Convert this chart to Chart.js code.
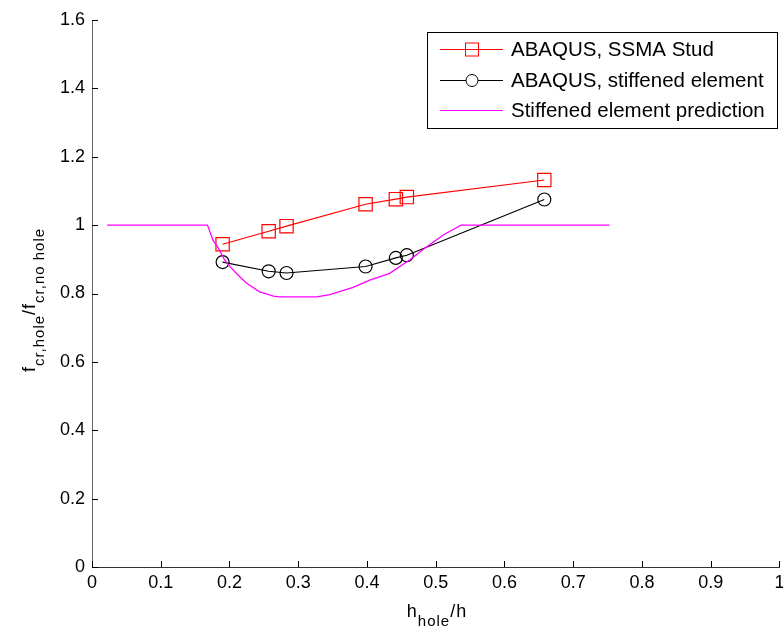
<!DOCTYPE html>
<html>
<head>
<meta charset="utf-8">
<script src="https://cdn.jsdelivr.net/npm/chart.js@4/dist/chart.umd.min.js"></script>
<style>
    html, body { margin: 0; padding: 0; background: #fff; overflow: hidden; }
    #wrap { width: 790px; height: 628px; }
</style>
</head>
<body>
<div id="wrap"><canvas id="chart" width="790" height="628"></canvas></div>
<script>
// h_hole/h values of the ABAQUS runs
const holeRatio = [0.190, 0.257, 0.283, 0.398, 0.442, 0.458, 0.658];
const ssmaStud = [0.944, 0.982, 0.997, 1.061, 1.076, 1.082, 1.132];
const stiffElement = [0.892, 0.865, 0.860, 0.879, 0.904, 0.912, 1.075];

// prediction curve
const predX = [0.022, 0.168, 0.176, 0.184, 0.193, 0.201, 0.215, 0.225, 0.244, 0.264, 0.273,
               0.327, 0.346, 0.380, 0.404, 0.433, 0.462, 0.486, 0.511, 0.537, 0.753];
const predY = [1.0, 1.0, 0.956, 0.932, 0.898, 0.878, 0.849, 0.830, 0.805, 0.792, 0.790,
               0.790, 0.797, 0.818, 0.839, 0.859, 0.898, 0.935, 0.971, 1.0, 1.0];

const xTicks = [0, 0.1, 0.2, 0.3, 0.4, 0.5, 0.6, 0.7, 0.8, 0.9, 1];
const yTicks = [0, 0.2, 0.4, 0.6, 0.8, 1, 1.2, 1.4, 1.6];

const legendItems = ['ABAQUS, SSMA Stud', 'ABAQUS, stiffened element', 'Stiffened element prediction'];

const FONT = 'Arial, "Liberation Sans", sans-serif';

function zip(xs, ys) {
    return xs.map((x, i) => ({ x: x, y: ys[i] }));
}

function fmt(v) {
    return String(Number(v.toFixed(1)));
}

// text with a subscript part, drawn left to right
function drawSubText(ctx, parts, x, y, align) {
    const big = '18px ' + FONT, small = '15px ' + FONT;
    ctx.letterSpacing = '1px';
    let total = 0;
    parts.forEach(p => {
        ctx.font = p.sub ? small : big;
        total += ctx.measureText(p.t).width;
    });
    let cx = align === 'center' ? x - total / 2 : x;
    ctx.textAlign = 'left';
    ctx.textBaseline = 'alphabetic';
    parts.forEach(p => {
        ctx.font = p.sub ? small : big;
        ctx.fillText(p.t, cx, p.sub ? y + 9 : y);
        cx += ctx.measureText(p.t).width;
    });
    ctx.letterSpacing = '0px';
}

const decorPlugin = {
    id: 'decor',
    afterDraw(chart) {
        const ctx = chart.ctx;
        const area = chart.chartArea;
        const xs = chart.scales.x, ys = chart.scales.y;
        ctx.save();

        // inward ticks
        ctx.strokeStyle = '#000';
        ctx.lineWidth = 1;
        ctx.beginPath();
        xTicks.forEach(v => {
            const px = Math.round(xs.getPixelForValue(v)) + 0.5;
            ctx.moveTo(px, area.bottom);
            ctx.lineTo(px, area.bottom - 6);
        });
        yTicks.forEach(v => {
            const py = Math.round(ys.getPixelForValue(v)) + 0.5;
            ctx.moveTo(area.left, py);
            ctx.lineTo(area.left + 6, py);
        });
        ctx.stroke();

        // axis titles
        ctx.fillStyle = '#000';
        drawSubText(ctx, [{ t: 'h' }, { t: 'hole', sub: true }, { t: '/h' }], 437, 617, 'center');
        ctx.save();
        ctx.translate(35, 300);
        ctx.rotate(-Math.PI / 2);
        drawSubText(ctx, [{ t: 'f' }, { t: 'cr,hole', sub: true }, { t: '/f' }, { t: 'cr,no hole', sub: true }], 0, 0, 'center');
        ctx.restore();

        // legend box
        const bx = 427.5, by = 32.5, bw = 350, bh = 96;
        ctx.fillStyle = '#fff';
        ctx.fillRect(bx, by, bw, bh);
        ctx.strokeStyle = '#000';
        ctx.lineWidth = 1;
        ctx.strokeRect(bx, by, bw, bh);
        const rows = [49.5, 80.5, 110.5];
        chart.data.datasets.forEach((ds, i) => {
            const ry = rows[i];
            ctx.strokeStyle = ds.borderColor;
            ctx.lineWidth = 1;
            ctx.beginPath();
            ctx.moveTo(440, ry);
            ctx.lineTo(503, ry);
            ctx.stroke();
            if (ds.pointStyle === 'rect') {
                ctx.strokeRect(465.5, ry - 6.5, 13, 13);
            } else if (ds.pointStyle === 'circle') {
                ctx.fillStyle = '#fff';
                ctx.beginPath();
                ctx.arc(472, ry, 6, 0, Math.PI * 2);
                ctx.fill();
                ctx.stroke();
            }
            ctx.fillStyle = '#000';
            ctx.font = '20.5px ' + FONT;
            ctx.textAlign = 'left';
            ctx.textBaseline = 'middle';
            ctx.fillText(legendItems[i], 511, ry + 1);
        });
        ctx.restore();
    }
};

const ctx = document.getElementById('chart').getContext('2d');
new Chart(ctx, {
    type: 'scatter',
    data: {
        datasets: [{
            label: legendItems[0],
            data: zip(holeRatio, ssmaStud),
            showLine: true,
            borderColor: '#ff0000',
            backgroundColor: 'rgba(0,0,0,0)',
            borderWidth: 1.2,
            pointStyle: 'rect',
            pointRadius: 9.4,
            pointBorderWidth: 1.2,
            pointBorderColor: '#ff0000',
            order: 3
        }, {
            label: legendItems[1],
            data: zip(holeRatio, stiffElement),
            showLine: true,
            borderColor: '#000000',
            backgroundColor: 'rgba(0,0,0,0)',
            borderWidth: 1.2,
            pointStyle: 'circle',
            pointRadius: 6.5,
            pointBorderWidth: 1.2,
            pointBorderColor: '#000000',
            order: 2
        }, {
            label: legendItems[2],
            data: zip(predX, predY),
            showLine: true,
            borderColor: '#ff00ff',
            backgroundColor: 'rgba(0,0,0,0)',
            borderWidth: 1.3,
            pointRadius: 0,
            pointStyle: false,
            order: 1
        }]
    },
    options: {
        responsive: false,
        animation: false,
        devicePixelRatio: 1,
        layout: { padding: { left: 0, right: 10, top: 20, bottom: 0 } },
        plugins: {
            legend: { display: false },
            tooltip: { enabled: false }
        },
        scales: {
            x: {
                type: 'linear',
                min: 0,
                max: 1,
                afterBuildTicks: s => { s.ticks = xTicks.map(v => ({ value: v })); },
                afterFit: s => { s.height = 61; s.paddingLeft = 0; s.paddingRight = 0; },
                grid: { display: false, drawTicks: false },
                border: { display: true, color: '#333', width: 1 },
                ticks: {
                    padding: 5,
                    color: '#000',
                    font: { family: FONT, size: 18 },
                    callback: v => fmt(v)
                }
            },
            y: {
                type: 'linear',
                min: 0,
                max: 1.6,
                afterBuildTicks: s => { s.ticks = yTicks.map(v => ({ value: v })); },
                afterFit: s => { s.width = 92; s.paddingTop = 0; s.paddingBottom = 0; },
                grid: { display: false, drawTicks: false },
                border: { display: true, color: '#666', width: 1 },
                ticks: {
                    padding: 7,
                    color: '#000',
                    font: { family: FONT, size: 18 },
                    callback: v => fmt(v)
                }
            }
        }
    },
    plugins: [decorPlugin]
});
</script>
</body>
</html>
